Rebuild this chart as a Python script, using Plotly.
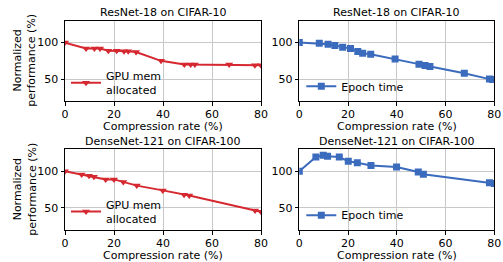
import plotly.graph_objects as go

# ---- data ----
res_mem_x = [0, 8.6, 12, 14.3, 17.7, 21.1, 24.1, 25.8, 29, 39.2, 48.7, 51.3, 53, 67, 77.5, 80]
res_mem_y = [100, 92, 92, 92, 89, 89, 88, 88, 87, 75, 70, 70, 70, 70, 69, 69]

res_time_x = [0, 8.2, 11.8, 14.6, 17.8, 21, 24, 26, 29.3, 39.3, 49.1, 51.6, 53.6, 67.7, 78, 79.3]
res_time_y = [100, 99, 97.7, 95.9, 93.6, 91.8, 87.7, 85.5, 84, 77.7, 70.5, 68.6, 67.3, 58, 50, 49.5]

dense_mem_x = [0, 6.8, 9.8, 11.8, 16.6, 20, 23.8, 29.3, 39.9, 48.6, 50.7, 77.6, 80]
dense_mem_y = [100, 95.5, 94, 92.7, 89, 89, 85.5, 80.5, 74, 68, 67, 46.5, 45]

dense_time_x = [0, 6.8, 9.8, 11.6, 16.4, 20.1, 23.8, 29.4, 39.9, 48.8, 50.9, 78, 80]
dense_time_y = [100, 119.5, 121.8, 120.5, 119.5, 113.6, 111.8, 108, 105.9, 99, 96, 84.5, 83.5]

titles = ["ResNet-18 on CIFAR-10", "ResNet-18 on CIFAR-10",
          "DenseNet-121 on CIFAR-100", "DenseNet-121 on CIFAR-100"]
x_ticks = [0, 20, 40, 60, 80]
y_ticks = [50, 100]
x_label = "Compression rate (%)"
y_label = "Normalized<br>performance (%)"
mem_name = "GPU mem<br>allocated"
time_name = "Epoch time"

RED = "#d62830"
BLUE = "#3a6bbd"
FONT = "DejaVu Sans"
FS = 11
W, H = 503, 262

# panel pixel boxes (left, right, top, bottom)
cols = [(65, 261), (299.3, 494.3)]
rows = [(20.7, 101), (149.3, 230)]

fig = go.Figure()
panels = [
    (res_mem_x, res_mem_y, mem_name, RED, "triangle-down", 0, 0),
    (res_time_x, res_time_y, time_name, BLUE, "square", 0, 1),
    (dense_mem_x, dense_mem_y, mem_name, RED, "triangle-down", 1, 0),
    (dense_time_x, dense_time_y, time_name, BLUE, "square", 1, 1),
]

layout = dict(
    width=W, height=H, margin=dict(l=0, r=0, t=0, b=0, autoexpand=False),
    paper_bgcolor="white", plot_bgcolor="white",
    font=dict(family=FONT, size=FS, color="black"),
    annotations=[],
)

for i, (xs, ys, name, col, sym, r, c) in enumerate(panels):
    k = i + 1
    xa = "x" if k == 1 else f"x{k}"
    ya = "y" if k == 1 else f"y{k}"
    lg = "legend" if k == 1 else f"legend{k}"
    fig.add_trace(go.Scatter(
        x=xs, y=ys, mode="lines+markers", name=name,
        line=dict(color=col, width=2),
        marker=dict(symbol=sym, size=7, color=col),
        xaxis=xa, yaxis=ya, legend=lg, showlegend=True, cliponaxis=True,
    ))
    l, rr = cols[c]
    t, b = rows[r]
    dom_x = [l / W, rr / W]
    dom_y = [1 - b / H, 1 - t / H]
    axkey = "xaxis" if k == 1 else f"xaxis{k}"
    aykey = "yaxis" if k == 1 else f"yaxis{k}"
    layout[axkey] = dict(
        domain=dom_x, range=[0, 80], tickvals=x_ticks, anchor=ya,
        showline=True, mirror=True, linecolor="black", linewidth=1,
        showgrid=True, gridcolor="#c8c8c8", gridwidth=1,
        ticks="outside", ticklen=3.5, tickcolor="black",
        tickfont=dict(size=FS), zeroline=False, automargin=False,
        ticklabelstandoff=-1,
    )
    layout[aykey] = dict(
        domain=dom_y, range=[20, 130], tickvals=y_ticks, anchor=xa,
        showline=True, mirror=True, linecolor="black", linewidth=1,
        showgrid=True, gridcolor="#c8c8c8", gridwidth=1,
        ticks="outside", ticklen=3.5, tickcolor="black",
        tickfont=dict(size=FS), zeroline=False, automargin=False,
    )
    # legend placement
    if sym == "triangle-down":
        lx, ly = (l + 1) / W, 1 - ((t + b) / 2 + 1) / H
    else:
        lx, ly = (l + 2) / W, 1 - ((t + b) / 2 + 11) / H
    layout[lg] = dict(
        x=lx, y=ly, xanchor="left", yanchor="top",
        bgcolor="rgba(255,255,255,0)", borderwidth=0,
        font=dict(size=FS), itemwidth=30,
    )
    # title
    layout["annotations"].append(dict(
        text=titles[i], x=(dom_x[0] + dom_x[1]) / 2, y=1 - (t - 8) / H,
        xref="paper", yref="paper", showarrow=False,
        xanchor="center", yanchor="middle", font=dict(size=FS),
    ))
    # x-axis title
    layout["annotations"].append(dict(
        text=x_label, x=(dom_x[0] + dom_x[1]) / 2, y=1 - (b + 25.5) / H,
        xref="paper", yref="paper", showarrow=False,
        xanchor="center", yanchor="middle", font=dict(size=FS),
    ))
    if c == 0:
        layout["annotations"].append(dict(
            text=y_label, x=25 / W, y=1 - ((t + b) / 2) / H,
            xref="paper", yref="paper", showarrow=False, textangle=-90,
            xanchor="center", yanchor="middle", font=dict(size=FS),
        ))

fig.update_layout(**layout)
fig.write_html("out.html", config={"displayModeBar": False},
               post_script="document.body.style.margin='0px';")
